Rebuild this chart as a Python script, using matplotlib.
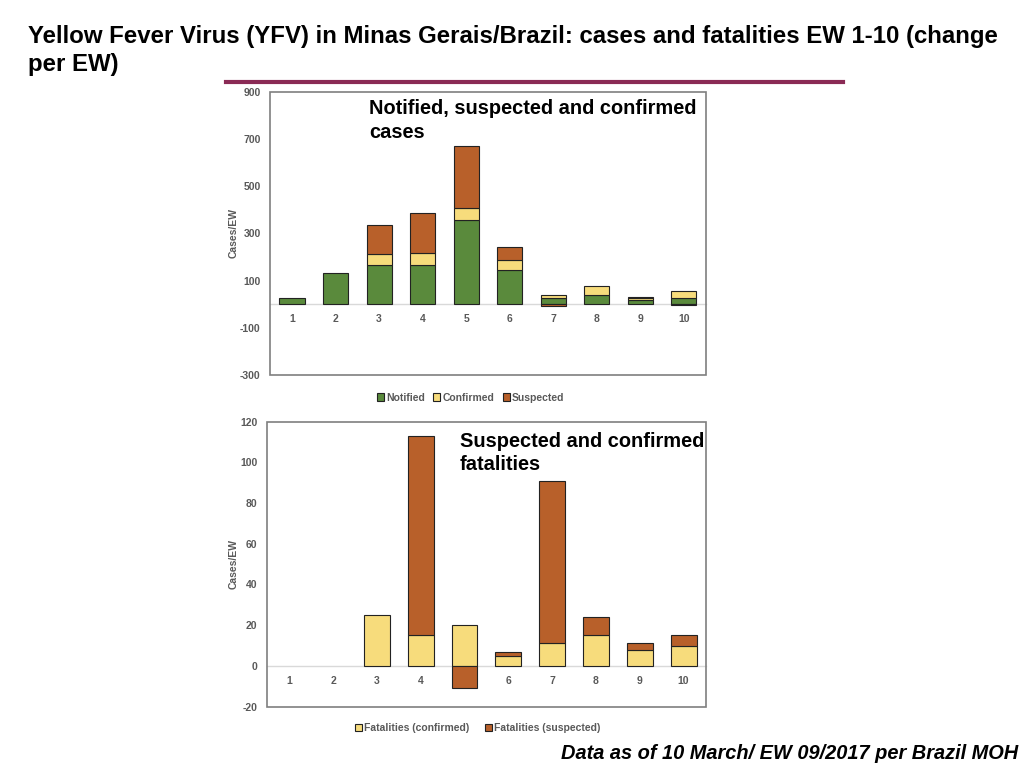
import numpy as np
import matplotlib
matplotlib.use("Agg")
import matplotlib.pyplot as plt
from matplotlib.patches import Rectangle

plt.rcParams['font.family'] = ['Liberation Sans', 'DejaVu Sans']
plt.rcParams['axes.unicode_minus'] = False

# epidemiological weeks
weeks = [1, 2, 3, 4, 5, 6, 7, 8, 9, 10]

# cases per EW (change)
notified = [25, 131, 167, 167, 358, 143, 27, 37, 18, 26]
confirmed = [0, 0, 47, 50, 49, 46, 10, 41, 8, 28]
suspected = [0, 0, 120, 171, 266, 52, -10, 0, 6, -5]

# fatalities per EW (change)
fat_confirmed = [0, 0, 25, 15, 20, 5, 11, 15, 8, 10]
fat_suspected = [0, 0, 0, 98, -11, 2, 80, 9, 3, 5]

green = '#5a8a3c'
yellow = '#f7dc7c'
orange = '#b8602a'
grey_txt = '#595959'


def stack_bottoms(base, vals):
    # positive values stack on top, negative values hang below zero
    return [b if v >= 0 else 0 for b, v in zip(base, vals)]


def no_zero(vals):
    # zero-height bars are not drawn at all
    return np.where(np.array(vals) == 0, np.nan, vals)


def style_axes(ax, ymin, ymax, yticks):
    ax.set_xlim(0.5, 10.5)
    ax.set_ylim(ymin, ymax)
    ax.set_yticks(yticks)
    ax.set_xticks(weeks)
    ax.set_xticklabels([str(w) for w in weeks])
    for s in ['top', 'right', 'left']:
        ax.spines[s].set_visible(False)
    ax.spines['bottom'].set_position(('data', 0))
    ax.spines['bottom'].set_color('#d9d9d9')
    ax.spines['bottom'].set_linewidth(1.0)
    ax.add_patch(Rectangle((0, 0), 1, 1, transform=ax.transAxes, fill=False,
                           edgecolor='#7f7f7f', linewidth=1.2, clip_on=False,
                           zorder=5))
    ax.tick_params(axis='x', length=0, pad=7, labelsize=7.5, colors=grey_txt)
    ax.tick_params(axis='y', length=0, pad=7, labelsize=7.5, colors=grey_txt)
    for lab in ax.get_xticklabels() + ax.get_yticklabels():
        lab.set_fontweight('bold')
    ax.set_ylabel('Cases/EW', fontsize=7.5, color=grey_txt, fontweight='bold',
                  labelpad=1)


fig = plt.figure(figsize=(10.24, 7.68), dpi=100)

fig.text(0.027, 0.968, 'Yellow Fever Virus (YFV) in Minas Gerais/Brazil: cases and fatalities EW 1-10 (change\nper EW)',
         fontsize=17.3, fontweight='bold', va='top', ha='left', linespacing=1.3)
fig.add_artist(plt.Line2D([0.221, 0.823], [0.893, 0.893], color='#8a2a55',
                          linewidth=3, transform=fig.transFigure))
fig.text(0.994, 0.007, 'Data as of 10 March/ EW 09/2017 per Brazil MOH',
         fontsize=14.4, fontweight='bold', style='italic', ha='right', va='bottom')

# top: cases
ax1 = fig.add_axes([0.264, 0.512, 0.425, 0.368])
w = 0.58
ax1.bar(weeks, no_zero(notified), w, color=green, edgecolor='#222222', linewidth=0.8,
        label='Notified', zorder=3)
ax1.bar(weeks, no_zero(confirmed), w, bottom=notified, color=yellow, edgecolor='#222222',
        linewidth=0.8, label='Confirmed', zorder=3)
base = [n + c for n, c in zip(notified, confirmed)]
ax1.bar(weeks, no_zero(suspected), w, bottom=stack_bottoms(base, suspected), color=orange,
        edgecolor='#222222', linewidth=0.8, label='Suspected', zorder=3)
style_axes(ax1, -300, 900, [-300, -100, 100, 300, 500, 700, 900])
ax1.text(0.227, 0.975, 'Notified, suspected and confirmed\ncases', transform=ax1.transAxes,
         fontsize=14.4, fontweight='bold', va='top', ha='left', linespacing=1.3)
leg1 = ax1.legend(loc='upper center', bbox_to_anchor=(0.46, -0.03), ncol=3,
                  frameon=False, fontsize=7.5, handlelength=0.7, handleheight=0.7,
                  handletextpad=0.2, columnspacing=0.8)
for t in leg1.get_texts():
    t.set_color(grey_txt)
    t.set_fontweight('bold')

# bottom: fatalities
ax2 = fig.add_axes([0.261, 0.08, 0.428, 0.371])
w = 0.59
ax2.bar(weeks, no_zero(fat_confirmed), w, color=yellow, edgecolor='#222222', linewidth=0.8,
        label='Fatalities (confirmed)', zorder=3)
ax2.bar(weeks, no_zero(fat_suspected), w, bottom=stack_bottoms(fat_confirmed, fat_suspected),
        color=orange, edgecolor='#222222', linewidth=0.8,
        label='Fatalities (suspected)', zorder=3)
style_axes(ax2, -20, 120, [-20, 0, 20, 40, 60, 80, 100, 120])
ax2.text(0.44, 0.965, 'Suspected and confirmed\nfatalities', transform=ax2.transAxes,
         fontsize=14.4, fontweight='bold', va='top', ha='left', linespacing=1.3)
leg2 = ax2.legend(loc='upper center', bbox_to_anchor=(0.48, -0.025), ncol=2,
                  frameon=False, fontsize=7.5, handlelength=0.7, handleheight=0.7,
                  handletextpad=0.2, columnspacing=1.5)
for t in leg2.get_texts():
    t.set_color(grey_txt)
    t.set_fontweight('bold')

fig.savefig('out.png', dpi=100)
